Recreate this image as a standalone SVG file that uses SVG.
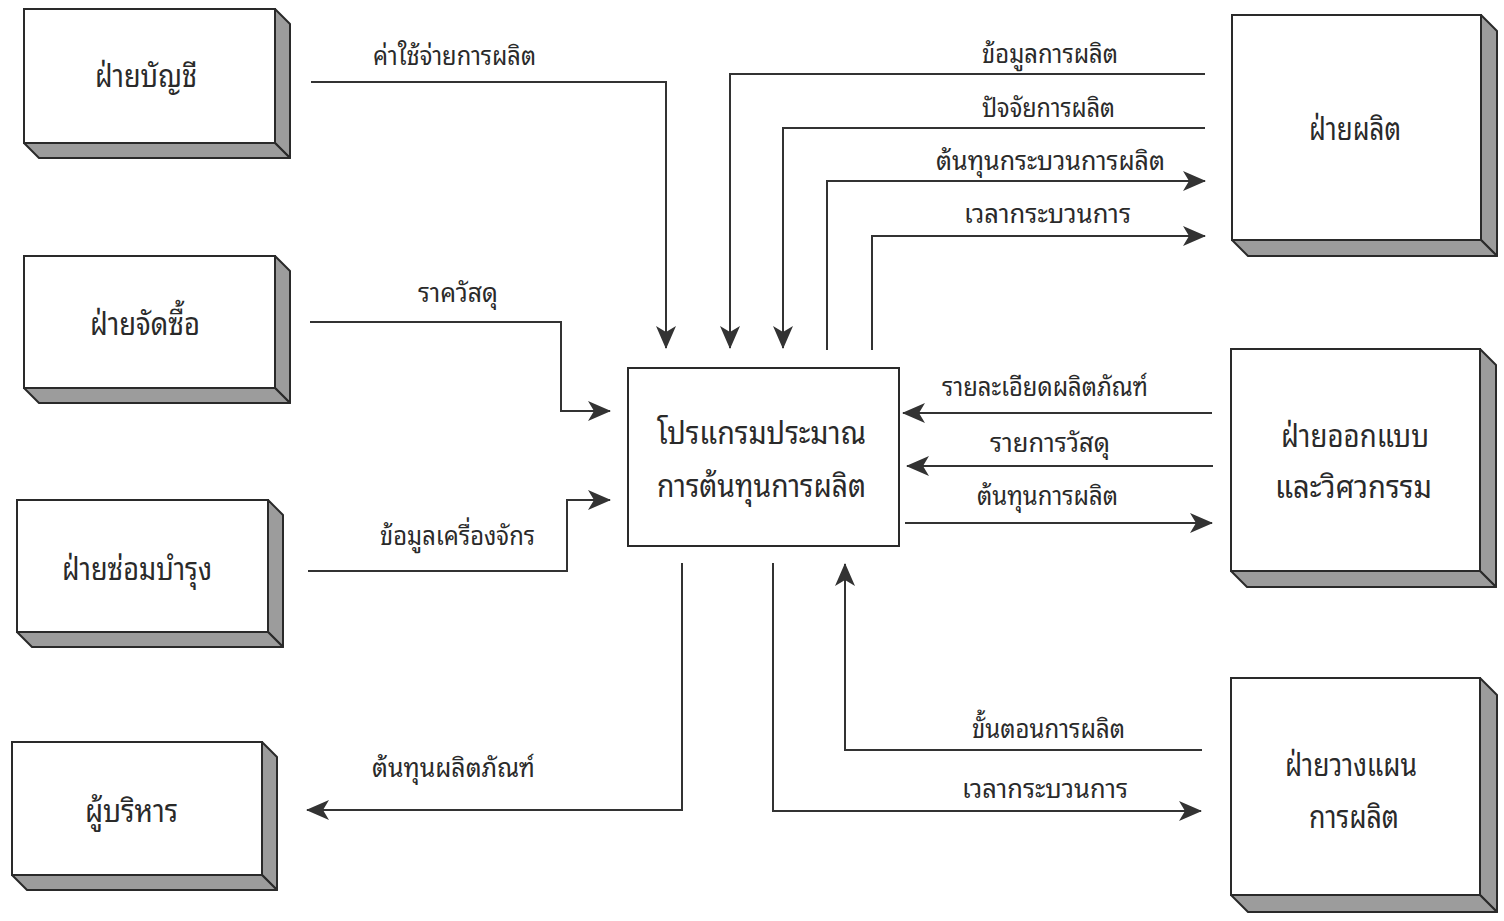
<svg xmlns="http://www.w3.org/2000/svg" width="1504" height="921" viewBox="0 0 1504 921">
<style>
.face{fill:#ffffff;stroke:#2a2a2a;stroke-width:2}
.side{fill:#9c9c9c;stroke:#2a2a2a;stroke-width:2;stroke-linejoin:round}
.box{font-family:"Noto Sans Thai Looped","Loma","Garuda","Norasi","Noto Sans Thai","Noto Sans","DejaVu Sans",sans-serif;font-size:32px;fill:#2a2a2a}
.lbl{font-family:"Noto Sans Thai Looped","Loma","Garuda","Norasi","Noto Sans Thai","Noto Sans","DejaVu Sans",sans-serif;font-size:26px;fill:#2a2a2a}
.ln{fill:none;stroke:#333;stroke-width:2}
.arr{fill:none;stroke:#333;stroke-width:2;marker-end:url(#ah)}
</style>
<defs>
<marker id="ah" markerUnits="userSpaceOnUse" markerWidth="24" markerHeight="20" refX="22" refY="10" orient="auto" viewBox="0 0 24 20">
<path d="M0,0 L23,10 L0,20 L6,10 Z" fill="#333"/>
</marker>
</defs>
<rect width="1504" height="921" fill="#ffffff"/>

<g id="node-accounting">
<polygon class="side" points="275,9 290,24 290,158 275,143"/>
<polygon class="side" points="24,143 275,143 290,158 39,158"/>
<rect class="face" x="24" y="9" width="251" height="134"/>
<text class="box" x="95" y="87" textLength="102" lengthAdjust="spacingAndGlyphs">ฝ่ายบัญชี</text>
</g>

<g id="node-purchasing">
<polygon class="side" points="275,256 290,271 290,403 275,388"/>
<polygon class="side" points="24,388 275,388 290,403 39,403"/>
<rect class="face" x="24" y="256" width="251" height="132"/>
<text class="box" x="90" y="335" textLength="110" lengthAdjust="spacingAndGlyphs">ฝ่ายจัดซื้อ</text>
</g>

<g id="node-maintenance">
<polygon class="side" points="268,500 283,515 283,647 268,632"/>
<polygon class="side" points="17,632 268,632 283,647 32,647"/>
<rect class="face" x="17" y="500" width="251" height="132"/>
<text class="box" x="62" y="580" textLength="150" lengthAdjust="spacingAndGlyphs">ฝ่ายซ่อมบำรุง</text>
</g>

<g id="node-executive">
<polygon class="side" points="262,742 277,757 277,890 262,875"/>
<polygon class="side" points="12,875 262,875 277,890 27,890"/>
<rect class="face" x="12" y="742" width="250" height="133"/>
<text class="box" x="85" y="822" textLength="93" lengthAdjust="spacingAndGlyphs">ผู้บริหาร</text>
</g>

<g id="node-production">
<polygon class="side" points="1481,15 1497,31 1497,256 1481,240"/>
<polygon class="side" points="1232,240 1481,240 1497,256 1248,256"/>
<rect class="face" x="1232" y="15" width="249" height="225"/>
<text class="box" x="1309" y="140" textLength="92" lengthAdjust="spacingAndGlyphs">ฝ่ายผลิต</text>
</g>

<g id="node-design">
<polygon class="side" points="1480,349 1496,365 1496,587 1480,571"/>
<polygon class="side" points="1231,571 1480,571 1496,587 1247,587"/>
<rect class="face" x="1231" y="349" width="249" height="222"/>
<text class="box" x="1281" y="447" textLength="148" lengthAdjust="spacingAndGlyphs">ฝ่ายออกแบบ</text>
<text class="box" x="1275" y="498" textLength="157" lengthAdjust="spacingAndGlyphs">และวิศวกรรม</text>
</g>

<g id="node-planning">
<polygon class="side" points="1480,678 1497,695 1497,912 1480,895"/>
<polygon class="side" points="1231,895 1480,895 1497,912 1248,912"/>
<rect class="face" x="1231" y="678" width="249" height="217"/>
<text class="box" x="1285" y="776" textLength="132" lengthAdjust="spacingAndGlyphs">ฝ่ายวางแผน</text>
<text class="box" x="1309" y="828" textLength="90" lengthAdjust="spacingAndGlyphs">การผลิต</text>
</g>

<g id="node-program">
<rect class="face" x="628" y="368" width="271" height="178"/>
<text class="box" x="657" y="444" textLength="209" lengthAdjust="spacingAndGlyphs">โปรแกรมประมาณ</text>
<text class="box" x="657" y="497" textLength="209" lengthAdjust="spacingAndGlyphs">การต้นทุนการผลิต</text>
</g>

<g id="connectors">
<path class="arr" d="M311,82 H666 V348"/>
<path class="arr" d="M310,322 H561 V411 H610"/>
<path class="arr" d="M308,571 H567 V500 H610"/>
<path class="arr" d="M682,563 V810 H307"/>
<path class="arr" d="M1205,74 H730 V348"/>
<path class="arr" d="M1205,128 H783 V348"/>
<path class="arr" d="M827,350 V181 H1205"/>
<path class="arr" d="M872,350 V236 H1205"/>
<path class="arr" d="M1212,413 H903"/>
<path class="arr" d="M1213,466 H907"/>
<path class="arr" d="M905,523 H1212"/>
<path class="arr" d="M1202,750 H845 V564"/>
<path class="arr" d="M773,563 V811 H1201"/>
</g>

<g id="labels">
<text class="lbl" x="373" y="65" textLength="163" lengthAdjust="spacingAndGlyphs">ค่าใช้จ่ายการผลิต</text>
<text class="lbl" x="418" y="302" textLength="80" lengthAdjust="spacingAndGlyphs">ราควัสดุ</text>
<text class="lbl" x="380" y="545" textLength="155" lengthAdjust="spacingAndGlyphs">ข้อมูลเครื่องจักร</text>
<text class="lbl" x="372" y="777" textLength="163" lengthAdjust="spacingAndGlyphs">ต้นทุนผลิตภัณฑ์</text>
<text class="lbl" x="982" y="63" textLength="136" lengthAdjust="spacingAndGlyphs">ข้อมูลการผลิต</text>
<text class="lbl" x="982" y="117" textLength="133" lengthAdjust="spacingAndGlyphs">ปัจจัยการผลิต</text>
<text class="lbl" x="936" y="170" textLength="229" lengthAdjust="spacingAndGlyphs">ต้นทุนกระบวนการผลิต</text>
<text class="lbl" x="964" y="223" textLength="167" lengthAdjust="spacingAndGlyphs">เวลากระบวนการ</text>
<text class="lbl" x="942" y="396" textLength="206" lengthAdjust="spacingAndGlyphs">รายละเอียดผลิตภัณฑ์</text>
<text class="lbl" x="990" y="452" textLength="120" lengthAdjust="spacingAndGlyphs">รายการวัสดุ</text>
<text class="lbl" x="977" y="505" textLength="141" lengthAdjust="spacingAndGlyphs">ต้นทุนการผลิต</text>
<text class="lbl" x="972" y="738" textLength="153" lengthAdjust="spacingAndGlyphs">ขั้นตอนการผลิต</text>
<text class="lbl" x="962" y="798" textLength="166" lengthAdjust="spacingAndGlyphs">เวลากระบวนการ</text>
</g>
</svg>
